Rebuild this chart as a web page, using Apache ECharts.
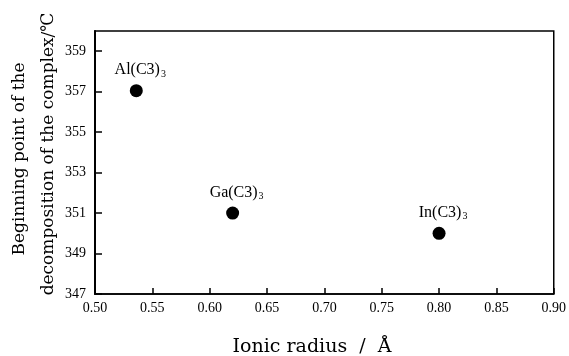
<!DOCTYPE html>
<html><head><meta charset="utf-8">
<script src="https://cdn.jsdelivr.net/npm/echarts@6/dist/echarts.min.js"></script>
<style>html,body{margin:0;padding:0;background:#fff}#c{width:569px;height:356px}</style>
</head><body><div id="c"></div>
<script>
var compounds = ['Al(C3)', 'Ga(C3)', 'In(C3)'];
var ionicRadius = [0.536, 0.62, 0.80];
var decompStart = [357.05, 351.0, 350.0];
var xTicks = [0.50, 0.55, 0.60, 0.65, 0.70, 0.75, 0.80, 0.85, 0.90];
var yTicks = [347, 349, 351, 353, 355, 357, 359];

var serif = 'Liberation Serif';
var titleFont = 'DejaVu Serif';
var chart = echarts.init(document.getElementById('c'));
var data = compounds.map(function (n, i) { return { value: [ionicRadius[i], decompStart[i]], name: n }; });
chart.setOption({
  animation: false,
  grid: { left: 95, right: 12, top: 31, bottom: 62, show: true, borderColor: '#000', borderWidth: 1.5 },
  xAxis: {
    type: 'value', min: 0.50, max: 0.90, interval: 0.05,
    axisLine: { lineStyle: { color: '#000', width: 1.5 } },
    axisTick: { inside: true, length: 6, customValues: xTicks, lineStyle: { color: '#000', width: 1.5 } },
    axisLabel: { color: '#000', fontFamily: serif, fontSize: 14, margin: 7, customValues: xTicks,
      formatter: function (v) { return v.toFixed(2); } },
    splitLine: { show: false }
  },
  yAxis: {
    type: 'value', min: 347, max: 360,
    axisLine: { lineStyle: { color: '#000', width: 2 } },
    axisTick: { inside: true, length: 7, customValues: yTicks, lineStyle: { color: '#000', width: 1.5 } },
    axisLabel: { color: '#000', fontFamily: serif, fontSize: 14, margin: 9, customValues: yTicks },
    splitLine: { show: false }
  },
  series: [{
    type: 'scatter', data: data, symbol: 'circle', symbolSize: 13,
    itemStyle: { color: '#000', opacity: 1 },
    emphasis: { disabled: true },
    label: {
      show: true, position: 'top', distance: 5, offset: [4, 0], color: '#000',
      formatter: function (p) { return '{a|' + p.name + '}{s|3}'; },
      rich: {
        a: { fontFamily: serif, fontSize: 16, color: '#000' },
        s: { fontFamily: serif, fontSize: 10, color: '#000', padding: [8, 0, 0, 1] }
      }
    }
  }],
  graphic: [
    { type: 'text', x: 20, y: 159, rotation: Math.PI / 2,
      style: { text: 'Beginning point of the', font: '17px "' + titleFont + '"', fill: '#000', align: 'center', verticalAlign: 'middle' } },
    { type: 'text', x: 49, y: 154, rotation: Math.PI / 2,
      style: { text: 'decomposition of the complex/℃', font: '17px "' + titleFont + '"', fill: '#000', align: 'center', verticalAlign: 'middle' } },
    { type: 'text', x: 312, y: 347,
      style: { text: 'Ionic radius  /  Å', font: '19px "' + titleFont + '"', fill: '#000', align: 'center', verticalAlign: 'middle' } }
  ]
});
</script></body></html>
